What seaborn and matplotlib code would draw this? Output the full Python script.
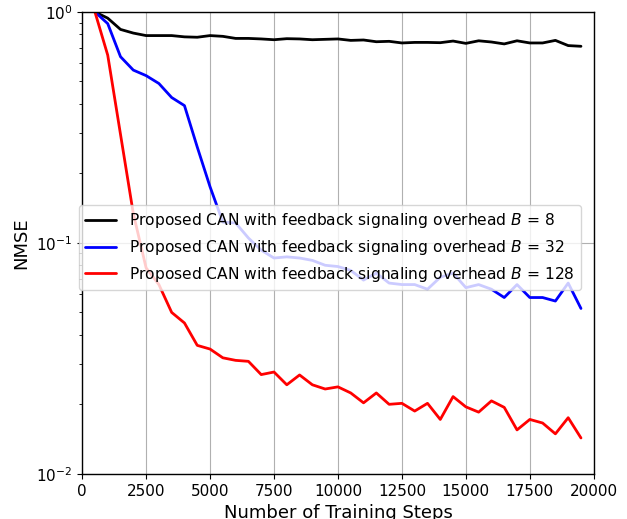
import numpy as np
import pandas as pd
import matplotlib
matplotlib.use("Agg")
import matplotlib.pyplot as plt
import seaborn as sns

# training steps (x axis)
steps = [500, 1000, 1500, 2000, 2500, 3000, 3500, 4000, 4500, 5000,
         5500, 6000, 6500, 7000, 7500, 8000, 8500, 9000, 9500, 10000,
         10500, 11000, 11500, 12000, 12500, 13000, 13500, 14000, 14500, 15000,
         15500, 16000, 16500, 17000, 17500, 18000, 18500, 19000, 19500]

# NMSE for B = 8
nmse_b8 = [1.0, 0.94, 0.84, 0.81, 0.79, 0.79, 0.79, 0.78, 0.777, 0.79,
           0.784, 0.768, 0.768, 0.764, 0.758, 0.766, 0.764, 0.758, 0.761, 0.764,
           0.753, 0.756, 0.743, 0.746, 0.734, 0.738, 0.738, 0.736, 0.748, 0.731,
           0.75, 0.741, 0.727, 0.75, 0.734, 0.734, 0.753, 0.715, 0.71]

# NMSE for B = 32
nmse_b32 = [1.0, 0.89, 0.64, 0.56, 0.53, 0.49, 0.426, 0.393, 0.26, 0.175,
            0.123, 0.122, 0.105, 0.093, 0.086, 0.087, 0.086, 0.084, 0.080, 0.079,
            0.076, 0.069, 0.074, 0.067, 0.066, 0.066, 0.063, 0.071, 0.074, 0.064,
            0.066, 0.063, 0.058, 0.066, 0.058, 0.058, 0.056, 0.067, 0.052]

# NMSE for B = 128
nmse_b128 = [1.0, 0.65, 0.295, 0.134, 0.078, 0.066, 0.05, 0.045, 0.036, 0.0347,
             0.0318, 0.031, 0.0307, 0.0269, 0.0276, 0.0243, 0.0268, 0.0243, 0.0233, 0.0238,
             0.0224, 0.0203, 0.0224, 0.02, 0.0202, 0.0187, 0.0202, 0.0172, 0.0216, 0.0195,
             0.0185, 0.0207, 0.0194, 0.0155, 0.0172, 0.0166, 0.0149, 0.0175, 0.0143]

labels = ["Proposed CAN with feedback signaling overhead $B$ = 8",
          "Proposed CAN with feedback signaling overhead $B$ = 32",
          "Proposed CAN with feedback signaling overhead $B$ = 128"]
colors = ["black", "blue", "red"]

df = pd.concat([
    pd.DataFrame({"step": steps, "nmse": nmse_b8, "curve": labels[0]}),
    pd.DataFrame({"step": steps, "nmse": nmse_b32, "curve": labels[1]}),
    pd.DataFrame({"step": steps, "nmse": nmse_b128, "curve": labels[2]}),
])

sns.set_style("ticks")
plt.rcParams['font.family'] = ['DejaVu Sans']
plt.rcParams['text.color'] = 'black'
plt.rcParams['axes.labelcolor'] = 'black'
plt.rcParams['xtick.color'] = 'black'
plt.rcParams['ytick.color'] = 'black'

fig, ax = plt.subplots(figsize=(6.27, 5.19), dpi=100)
fig.subplots_adjust(left=0.131, right=0.947, top=0.977, bottom=0.087)

sns.lineplot(data=df, x="step", y="nmse", hue="curve", hue_order=labels,
             palette=colors, linewidth=2, ax=ax)

ax.set_yscale("log")
ax.set_xlim(0, 20000)
ax.set_ylim(1e-2, 1)
ax.set_xticks([0, 2500, 5000, 7500, 10000, 12500, 15000, 17500, 20000])
ax.grid(True, which="major", color="#b0b0b0", linewidth=0.8)
ax.tick_params(labelsize=11, colors="black")
for sp in ax.spines.values():
    sp.set_color("black")
    sp.set_linewidth(1)

ax.set_xlabel("Number of Training Steps", fontsize=13)
ax.set_ylabel("NMSE", fontsize=13)

ax.legend(loc="center left", bbox_to_anchor=(-0.006, 0.49), borderaxespad=0,
          fontsize=11.2, framealpha=0.8, fancybox=True)

fig.savefig("out.png", dpi=100)
